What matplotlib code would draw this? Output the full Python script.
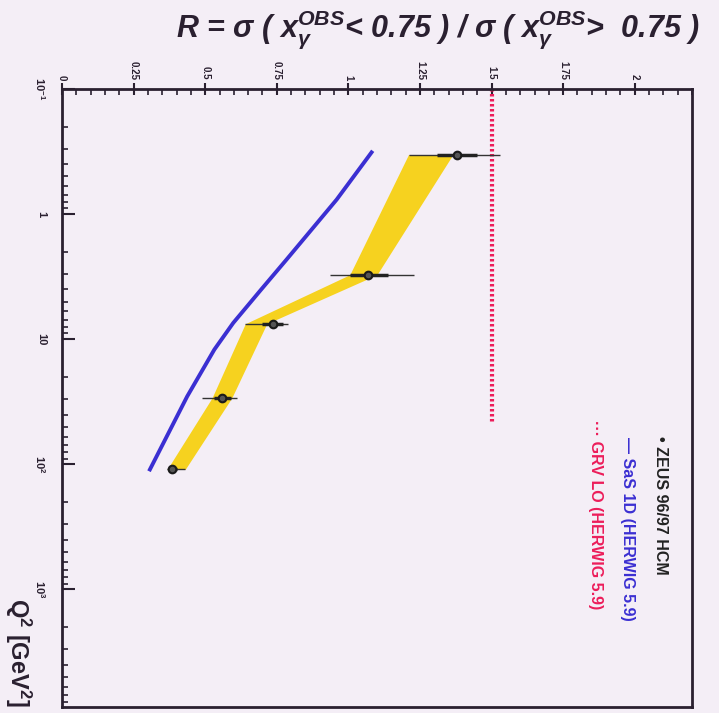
import matplotlib
matplotlib.use('Agg')
import matplotlib.pyplot as plt
from matplotlib.ticker import MultipleLocator, LogLocator, NullFormatter

# ZEUS 96/97 HCM data points
q2 = [0.334, 3.05, 7.52, 29.4, 110.0]
r_val = [1.38, 1.07, 0.736, 0.56, 0.384]
r_stat_lo = [1.31, 1.005, 0.70, 0.53, 0.37]
r_stat_hi = [1.45, 1.14, 0.77, 0.59, 0.40]
r_tot_lo = [1.21, 0.935, 0.64, 0.49, 0.367]
r_tot_hi = [1.53, 1.23, 0.79, 0.61, 0.43]

# energy scale uncertainty band
band_lo = [1.21, 1.005, 0.64, 0.524, 0.367]
band_hi = [1.365, 1.10, 0.715, 0.593, 0.43]

# SaS 1D (HERWIG 5.9)
sas_q2 = [0.321, 0.766, 2.31, 4.02, 7.41, 12.1, 28.7, 110.0]
sas_r = [1.081, 0.959, 0.784, 0.695, 0.598, 0.532, 0.437, 0.307]

# GRV LO (HERWIG 5.9)
grv_q2 = [0.1, 46.6]
grv_r = [1.5, 1.5]

r_ticks = [0, 0.25, 0.5, 0.75, 1, 1.25, 1.5, 1.75, 2]
r_labels = ['0', '0.25', '0.5', '0.75', '1', '1.25', '1.5', '1.75', '2']
q2_ticks = [0.1, 1, 10, 100, 1000]
q2_labels = ['10$^{-1}$', '1', '10', '10$^{2}$', '10$^{3}$']

bg = '#f4eef6'
ink = '#2a2030'
W, H = 719, 713

plt.rcParams['font.family'] = ['Liberation Sans', 'DejaVu Sans']
plt.rcParams['mathtext.fontset'] = 'custom'
plt.rcParams['mathtext.rm'] = 'Liberation Sans:bold'
plt.rcParams['mathtext.it'] = 'Liberation Sans:bold:italic'
plt.rcParams['mathtext.bf'] = 'Liberation Sans:bold'


def main():
    fig = plt.figure(figsize=(W / 100, H / 100), dpi=100, facecolor=bg)
    ax = fig.add_axes([62 / W, 1 - 707 / H, 630 / W, 618 / H], facecolor=bg)

    #band, curves, points (plot is rotated: R horizontal, Q2 vertical downward)
    ax.fill_betweenx(q2, band_lo, band_hi, color='#f6d21f', lw=0, zorder=1)
    ax.plot(sas_r, sas_q2, color='#3b2fd2', lw=2.8, zorder=2)
    ax.plot(grv_r, grv_q2, color='#ec1d5a', lw=3, ls=(0, (0.6, 0.6)), zorder=2)
    ax.hlines(q2, r_tot_lo, r_tot_hi, color='#333333', lw=1, zorder=3)
    ax.hlines(q2, r_stat_lo, r_stat_hi, color='#222222', lw=2.5, zorder=3)
    ax.plot(r_val, q2, 'o', ms=5.5, mfc='#555555', mec='#1a1a1a', mew=1.5, zorder=4)

    ax.set_xlim(0, 2.2)
    ax.set_yscale('log')
    ax.set_ylim(10 ** 3.94, 0.1)

    #axes styling
    for s in ax.spines.values():
        s.set_linewidth(2)
        s.set_color(ink)
    ax.xaxis.tick_top()
    ax.set_xticks(r_ticks)
    ax.set_xticklabels(r_labels, rotation=-90, fontsize=7, fontweight='bold')
    ax.xaxis.set_minor_locator(MultipleLocator(0.05))
    ax.tick_params(axis='x', which='major', direction='inout', length=9, width=1.5, pad=2, colors=ink)
    ax.tick_params(axis='x', which='minor', direction='in', length=4, width=1.2, colors=ink)
    ax.set_yticks(q2_ticks)
    ax.set_yticklabels(q2_labels, rotation=-90, fontsize=8, fontweight='bold', va='center')
    ax.yaxis.set_minor_locator(LogLocator(base=10, subs=range(2, 10)))
    ax.yaxis.set_minor_formatter(NullFormatter())
    ax.tick_params(axis='y', which='major', direction='in', length=9, width=1.5, pad=11, colors=ink)
    ax.tick_params(axis='y', which='minor', direction='in', length=4, width=1.2, colors=ink)

    #title and axis label
    fig.text(438 / W, 1 - 30 / H,
             'R = σ ( x$_{\\gamma}^{OBS}$< 0.75 ) / σ ( x$_{\\gamma}^{OBS}$>  0.75 )',
             ha='center', va='center', fontsize=22, fontweight='bold', style='italic', color=ink)
    fig.text(18 / W, 1 - 598 / H, 'Q$^2$ [GeV$^2$]', rotation=-90, ha='center', va='top',
             fontsize=17, fontweight='bold', color=ink)

    #rotated legend
    fig.text(661 / W, 1 - 436 / H, '• ZEUS 96/97 HCM', rotation=-90, ha='center', va='top',
             fontsize=11.5, fontweight='bold', color='#222222')
    fig.text(627 / W, 1 - 437 / H, '— SaS 1D (HERWIG 5.9)', rotation=-90, ha='center', va='top',
             fontsize=11.5, fontweight='bold', color='#3b2fd2')
    fig.text(596 / W, 1 - 420 / H, '··· GRV LO (HERWIG 5.9)', rotation=-90, ha='center', va='top',
             fontsize=11.5, fontweight='bold', color='#ec1d5a')

    fig.savefig('out.png', dpi=100, facecolor=bg)


if __name__ == "__main__":
    main()
